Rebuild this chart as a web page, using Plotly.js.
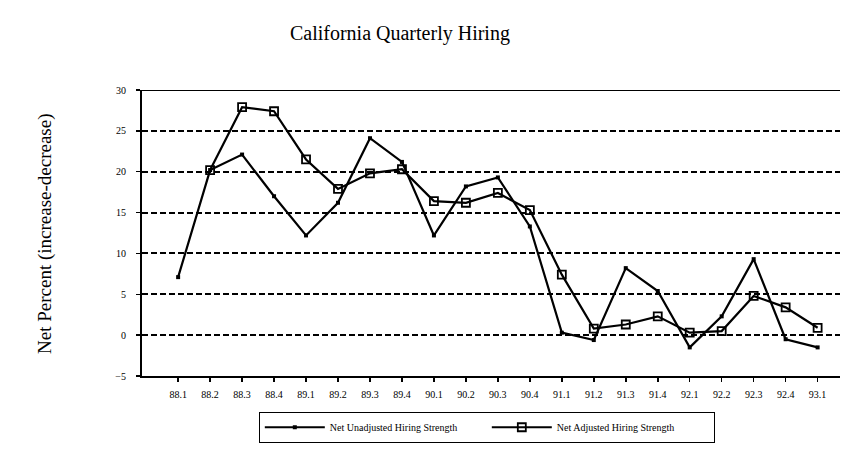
<!DOCTYPE html>
<html>
<head>
<meta charset="utf-8">
<script src="https://cdn.plot.ly/plotly-3.0.1.min.js"></script>
<style>html,body{margin:0;padding:0;background:#fff;}#chart{width:842px;height:451px;}</style>
</head>
<body>
<div id="chart"></div>
<script>
const quarters = ["88.1","88.2","88.3","88.4","89.1","89.2","89.3","89.4","90.1","90.2","90.3","90.4","91.1","91.2","91.3","91.4","92.1","92.2","92.3","92.4","93.1"];
const unadjusted = [7.1, 20.2, 22.1, 17.0, 12.2, 16.2, 24.1, 21.2, 12.2, 18.2, 19.3, 13.3, 0.3, -0.6, 8.2, 5.4, -1.5, 2.3, 9.3, -0.5, -1.5];
const adjusted = [null, 20.2, 27.9, 27.4, 21.5, 17.9, 19.8, 20.3, 16.4, 16.2, 17.4, 15.3, 7.4, 0.8, 1.3, 2.3, 0.3, 0.5, 4.8, 3.4, 0.9];
const yTicks = [-5, 0, 5, 10, 15, 20, 25, 30];

const serif = "Liberation Serif, Times New Roman, serif";

const traces = [
  {
    x: quarters, y: unadjusted, type: "scatter", mode: "lines+markers",
    name: "Net Unadjusted Hiring Strength",
    line: {color: "#000", width: 2.2},
    marker: {symbol: "square", size: 4, color: "#000"}
  },
  {
    x: quarters, y: adjusted, type: "scatter", mode: "lines+markers",
    name: "Net Adjusted Hiring Strength",
    line: {color: "#000", width: 2.2},
    marker: {symbol: "square-open", size: 8, color: "#000", line: {width: 1.8, color: "#000"}}
  }
];

const layout = {
  width: 842, height: 451,
  margin: {l: 142, r: 2, t: 90, b: 75},
  paper_bgcolor: "#fff", plot_bgcolor: "#fff",
  showlegend: true,
  title: {
    text: "California Quarterly Hiring",
    font: {family: serif, size: 20, color: "#000"},
    x: 0.475, xanchor: "center", xref: "container",
    y: 0.927, yanchor: "middle", yref: "container"
  },
  xaxis: {
    type: "category",
    range: [-1.13, 20.7],
    showgrid: false, zeroline: false,
    showline: true, linecolor: "#000", linewidth: 2,
    ticks: "outside", ticklen: 4, tickwidth: 1.5, tickcolor: "#000",
    tickfont: {family: serif, size: 10, color: "#000"},
    ticklabelstandoff: 4
  },
  yaxis: {
    range: [-5, 30],
    tickvals: yTicks,
    showgrid: true, gridcolor: "#000", gridwidth: 2, griddash: "6px,3px",
    zeroline: false,
    showline: true, linecolor: "#000", linewidth: 2,
    ticks: "outside", ticklen: 4, tickwidth: 1.5, tickcolor: "#000",
    tickfont: {family: serif, size: 10, color: "#000"},
    ticklabelstandoff: 8
  },
  shapes: [
    {type: "line", xref: "paper", x0: 0, x1: 1, yref: "y", y0: 30, y1: 30,
     line: {color: "#000", width: 2}}
  ],
  annotations: [
    {text: "Net Percent (increase-decrease)", textangle: -90,
     xref: "paper", x: -0.139, yref: "paper", y: 0.5,
     xanchor: "center", yanchor: "middle", showarrow: false,
     font: {family: serif, size: 19, color: "#000"}}
  ],
  legend: {
    orientation: "h",
    x: 0.494, xanchor: "center", xref: "paper",
    y: -0.125, yanchor: "top", yref: "paper",
    bordercolor: "#000", borderwidth: 1,
    font: {family: serif, size: 10, color: "#000"},
    itemwidth: 60,
    entrywidth: 152
  }
};

Plotly.newPlot("chart", traces, layout, {displayModeBar: false, staticPlot: true});
</script>
</body>
</html>
